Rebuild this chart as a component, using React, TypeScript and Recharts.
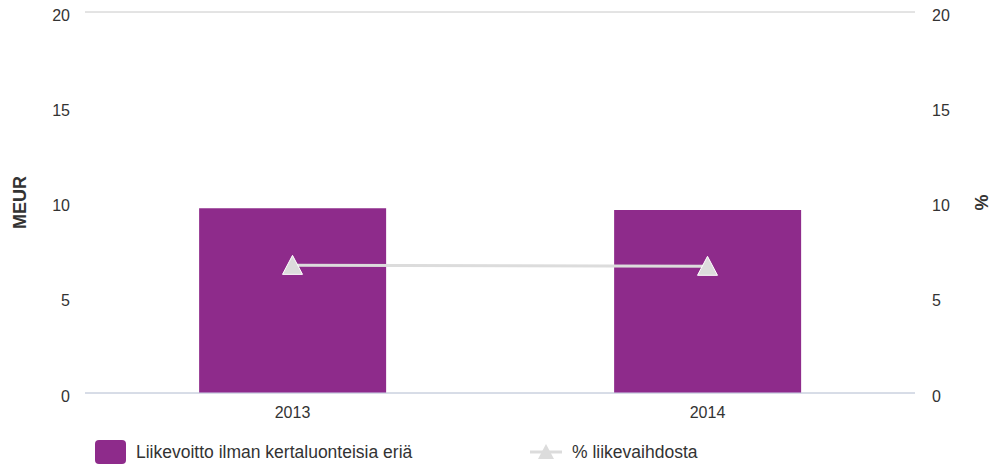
import { ComposedChart, Bar, Line, XAxis, YAxis, CartesianGrid, Legend } from 'recharts';

const years = ['2013', '2014'];
const liikevoitto = [9.7, 9.6];
const prosentti = [6.7, 6.65];
const ticks = [0, 5, 10, 15, 20];

const barName = 'Liikevoitto ilman kertaluonteisia eriä';
const lineName = '% liikevaihdosta';

const data = years.map((y, i) => ({ year: y, liikevoitto: liikevoitto[i], prosentti: prosentti[i] }));

const FONT = '"Liberation Sans", Arial, sans-serif';

const Triangle = (props: any) => {
  const { cx, cy } = props;
  if (cx == null || cy == null) return null;
  return (
    <path
      d={`M${cx},${cy - 10} L${cx + 10},${cy + 9} L${cx - 10},${cy + 9} Z`}
      fill="#dcdcdc"
      stroke="#ffffff"
      strokeWidth={1}
    />
  );
};

const LegendContent = () => (
  <div style={{ position: 'relative', height: 40, fontFamily: FONT, fontSize: 17.5, color: '#333' }}>
    <div style={{ position: 'absolute', left: 95, top: 12, display: 'flex', alignItems: 'center', height: 24 }}>
      <span style={{ display: 'inline-block', width: 31, height: 24, background: '#8e2b8b', borderRadius: 4 }} />
      <span style={{ marginLeft: 10 }}>{barName}</span>
    </div>
    <div style={{ position: 'absolute', left: 530, top: 12, display: 'flex', alignItems: 'center', height: 24 }}>
      <svg width={32} height={24}>
        <line x1={0} y1={12} x2={32} y2={12} stroke="#dcdcdc" strokeWidth={3} />
        <path d="M16,4 L24,19 L8,19 Z" fill="#dcdcdc" />
      </svg>
      <span style={{ marginLeft: 10 }}>{lineName}</span>
    </div>
  </div>
);

const tickStyle = { fontSize: 16, fill: '#333', fontFamily: FONT };

export default function App() {
  return (
    <div style={{ position: 'absolute', left: 0, top: 0, width: 992, height: 468, background: '#fff' }}>
      <ComposedChart
        width={992}
        height={468}
        data={data}
        margin={{ top: 12, right: 0, bottom: 0, left: 0 }}
        barCategoryGap="27.5%"
      >
        <CartesianGrid vertical={false} stroke="#c8c8c8" />
        <XAxis
          dataKey="year"
          height={35}
          tickLine={false}
          tickSize={0}
          tickMargin={14}
          stroke="#ccd6eb"
          tick={tickStyle}
        />
        <YAxis
          yAxisId="left"
          width={85}
          domain={[0, 20]}
          ticks={ticks}
          axisLine={false}
          tickLine={false}
          tickSize={0}
          tickMargin={15}
          tick={{ ...tickStyle, dy: 3 }}
          label={(p: any) => {
            const vb = p.viewBox;
            const x = vb.x + 20;
            const y = vb.y + vb.height / 2;
            return (
              <text x={x} y={y} transform={`rotate(-90 ${x} ${y})`} textAnchor="middle" dominantBaseline="central"
                style={{ fontSize: 18, fontWeight: 'bold', fill: '#333', fontFamily: FONT }}>MEUR</text>
            );
          }}
        />
        <YAxis
          yAxisId="right"
          orientation="right"
          width={77}
          domain={[0, 20]}
          ticks={ticks}
          axisLine={false}
          tickLine={false}
          tickSize={0}
          tickMargin={17}
          tick={{ ...tickStyle, dy: 3 }}
          label={(p: any) => {
            const vb = p.viewBox;
            const x = vb.x + 67;
            const y = vb.y + vb.height / 2;
            return (
              <text x={x} y={y} transform={`rotate(-90 ${x} ${y})`} textAnchor="middle" dominantBaseline="central"
                style={{ fontSize: 18, fontWeight: 'bold', fill: '#333', fontFamily: FONT }}>%</text>
            );
          }}
        />
        <Legend verticalAlign="bottom" height={40} content={<LegendContent />} wrapperStyle={{ left: 0, width: 992 }} />
        <Bar yAxisId="left" dataKey="liikevoitto" name={barName} fill="#8e2b8b" isAnimationActive={false} />
        <Line
          yAxisId="right"
          dataKey="prosentti"
          name={lineName}
          stroke="#dcdcdc"
          strokeWidth={3}
          dot={<Triangle />}
          activeDot={false}
          isAnimationActive={false}
        />
      </ComposedChart>
    </div>
  );
}
